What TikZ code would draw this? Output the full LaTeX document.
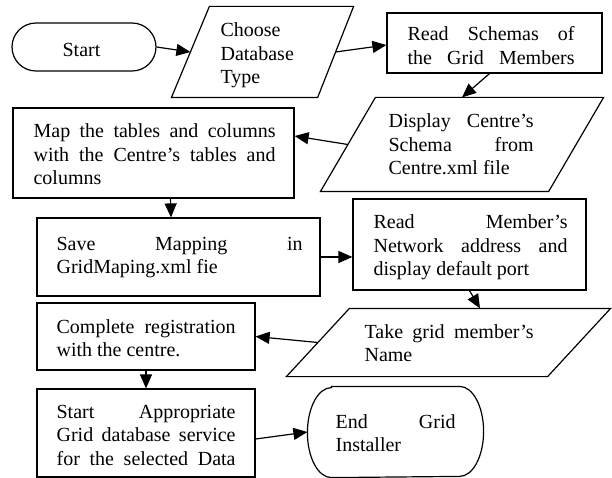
\documentclass[tikz,border=0pt]{standalone}
\usepackage{fontspec}
\setmainfont{Liberation Serif}
\usetikzlibrary{arrows.meta,calc,shapes.misc}

% one justified line, stretched to the width of the surrounding parbox
\newcommand\jline[1]{\makebox[\linewidth][s]{#1}}
% a block of text whose first baseline is the node's base anchor
\newcommand\blk[2]{\parbox[t]{#1}{#2}}

\begin{document}
\begin{tikzpicture}[x=1pt,y=-1pt,
  line width=1.2pt,
  box/.style={draw,rectangle,inner sep=0pt},
  frame/.style={draw=none,rectangle,inner sep=0pt},
  txt/.style={inner sep=0pt,anchor=base west,font=\fontsize{20}{23.5}\selectfont},
  flow/.style={-{Triangle[length=14pt,width=12pt]},line width=1.2pt}]

\useasboundingbox (0,0) rectangle (612,478);

% ---------- shapes ----------
\node[draw,rounded rectangle,inner sep=0pt,minimum width=144pt,minimum height=48pt] (start) at (84,47) {};

\node[frame,minimum width=181pt,minimum height=90pt] (choose) at (262.5,52) {};
\coordinate (choose-tl) at ($(choose.north west)+(38,0)$);
\coordinate (choose-tr) at (choose.north east);
\coordinate (choose-br) at ($(choose.south east)+(-36,0)$);
\coordinate (choose-bl) at (choose.south west);
\draw (choose-tl) -- (choose-tr) -- (choose-br) -- (choose-bl) -- cycle;

\node[box,minimum width=215pt,minimum height=60pt] (rs) at (494.5,43) {};

\node[frame,minimum width=282pt,minimum height=93pt] (disp) at (462,144.5) {};
\coordinate (disp-tl) at ($(disp.north west)+(55,0)$);
\coordinate (disp-tr) at (disp.north east);
\coordinate (disp-br) at ($(disp.south east)+(-55,0)$);
\coordinate (disp-bl) at (disp.south west);
\draw (disp-tl) -- (disp-tr) -- (disp-br) -- (disp-bl) -- cycle;

\node[box,minimum width=281pt,minimum height=90pt] (map) at (153.5,153) {};
\node[box,minimum width=283pt,minimum height=78pt] (save) at (178.5,257) {};
\node[box,minimum width=233pt,minimum height=91pt] (rm) at (469.5,244.5) {};

\node[frame,minimum width=323pt,minimum height=67pt] (take) at (448.5,342.5) {};
\coordinate (take-tl) at ($(take.north west)+(63,0)$);
\coordinate (take-tr) at (take.north east);
\coordinate (take-br) at ($(take.south east)+(-63,0)$);
\coordinate (take-bl) at (take.south west);
\draw (take-tl) -- (take-tr) -- (take-br) -- (take-bl) -- cycle;

\node[box,minimum width=218pt,minimum height=67pt] (comp) at (146,336.5) {};
\node[box,minimum width=218pt,minimum height=88pt] (sa) at (146,433) {};

% terminal with half-elliptic ends
\node[frame,minimum width=175pt,minimum height=90pt] (end) at (395.5,432) {};
\draw ($(end.north west)+(24,0)$) -- ($(end.north east)+(-24,0)$)
  arc[start angle=-90,end angle=90,x radius=24,y radius=45]
  -- ($(end.south west)+(24,0)$)
  arc[start angle=90,end angle=270,x radius=24,y radius=45] -- cycle;

% ---------- texts ----------
\node[txt] (startT) at (62,57) {Start};
\node[txt] (chooseT) at (220,37) {\blk{100pt}{Choose\\Database\\Type}};
\node[txt] (rsT) at (407,41) {\blk{167pt}{\jline{Read Schemas of}\\\jline{the Grid Members}}};
\node[txt] (dispT) at (388,128) {\blk{145pt}{\jline{Display Centre's}\\\jline{Schema from}\\Centre.xml file}};
\node[txt] (mapT) at (33,138) {\blk{242pt}{\jline{Map the tables and columns}\\\jline{with the Centre's tables and}\\columns}};
\node[txt] (saveT) at (56,250) {\blk{246pt}{\jline{Save Mapping in}\\GridMaping.xml fie}};
\node[txt] (rmT) at (373,229) {\blk{194pt}{\jline{Read Member's}\\\jline{Network address and}\\display default port}};
\node[txt] (takeT) at (364,338) {\blk{169pt}{\jline{Take grid member's}\\Name}};
\node[txt] (compT) at (56,333) {\blk{179pt}{\jline{Complete registration}\\with the centre.}};
\node[txt] (saT) at (56,418) {\blk{179pt}{\jline{Start Appropriate}\\\jline{Grid database service}\\\jline{for the selected Data}}};
\node[txt] (endT) at (335,428) {\blk{120pt}{\jline{End Grid}\\Installer}};

% ---------- connectors ----------
\draw[flow] (start.east) -- ($(choose-bl)!0.5!(choose-tl)$);
\draw[flow] ($(choose-br)!0.5!(choose-tr)$) -- ($(rs.west)+(0,2)$);
\draw[flow] ($(rs.south)+(-5,0)$) -- (disp.north);
\draw[flow] ($(disp-bl)!0.5!(disp-tl)$) -- ($(map.east)+(0,-17)$);
\draw[flow] ($(map.south)+(17,0)$) -- ($(save.north)+(-7.5,0)$);
\draw[flow] (save.east) -- (save.east -| rm.west);
\draw[flow] (rm.south) -- ($(take-tl)!0.5!(take-tr)$);
\draw[flow] ($(take-bl)!0.5!(take-tl)$) -- (comp.east);
\draw[flow] (comp.south) -- (sa.north);
\draw[flow] ($(sa.east)+(0,6)$) -- (end.west);
\end{tikzpicture}
\end{document}
